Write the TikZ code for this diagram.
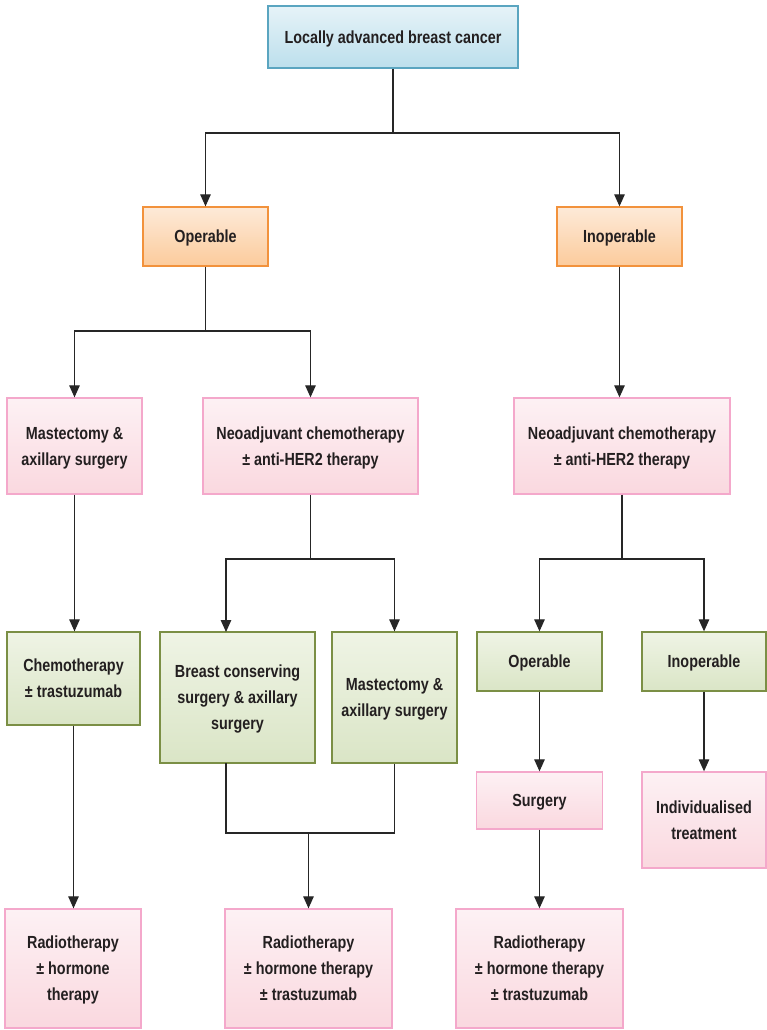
\documentclass[tikz,border=0pt]{standalone}
\usepackage{fontspec}
\setmainfont{Liberation Sans}[FakeStretch=0.82]
\usetikzlibrary{arrows.meta}
\definecolor{blueline}{HTML}{5AA5C0}
\definecolor{bluetop}{HTML}{E6F3F8}
\definecolor{bluebot}{HTML}{BCDFEC}
\definecolor{orangeline}{HTML}{F2923C}
\definecolor{orangetop}{HTML}{FDEAD8}
\definecolor{orangebot}{HTML}{FCCB9C}
\definecolor{pinkline}{HTML}{F4A8CB}
\definecolor{pinktop}{HTML}{FDF1F4}
\definecolor{pinkbot}{HTML}{FAD8DF}
\definecolor{greenline}{HTML}{7B8F45}
\definecolor{greentop}{HTML}{EFF4E5}
\definecolor{greenbot}{HTML}{DAE5C6}
\definecolor{inkcol}{HTML}{231F20}
\begin{document}
\begin{tikzpicture}[
    x=1pt, y=-1pt,
    every node/.style={font=\bfseries\fontsize{17.5}{26}\selectfont, text=inkcol, align=center},
    box/.style={rectangle, line width=1.3pt, inner sep=0pt, text depth=-2pt},
    bluebox/.style={box, draw=blueline, top color=bluetop, bottom color=bluebot},
    orangebox/.style={box, draw=orangeline, top color=orangetop, bottom color=orangebot},
    pinkbox/.style={box, draw=pinkline, top color=pinktop, bottom color=pinkbot},
    greenbox/.style={box, draw=greenline, top color=greentop, bottom color=greenbot},
    link/.style={draw=black!85, line width=1.2pt},
    arr/.style={link, -{Triangle[length=12pt,width=10.5pt]}}
]
    \useasboundingbox (0,0) rectangle (766,1030);

    % level 0 and 1
    \node[bluebox, minimum width=250, minimum height=62] (lab) at (393,37) {Locally advanced breast cancer};
    \node[orangebox, minimum width=125, minimum height=59] (oper) at (205.5,236.5) {Operable};
    \node[orangebox, minimum width=125, minimum height=59] (inoper) at (619.5,236.5) {Inoperable};

    % level 2
    \node[pinkbox, minimum width=135, minimum height=96] (mast) at (74.5,446) {Mastectomy \&\\axillary surgery};
    \node[pinkbox, minimum width=215, minimum height=96] (neoL) at (310.5,446) {Neoadjuvant chemotherapy\\± anti-HER2 therapy};
    \node[pinkbox, minimum width=216, minimum height=96] (neoR) at (622,446) {Neoadjuvant chemotherapy\\± anti-HER2 therapy};

    % level 3
    \node[greenbox, minimum width=133, minimum height=93] (chemo) at (73.5,678.5) {Chemotherapy\\± trastuzumab};
    \node[greenbox, minimum width=155, minimum height=131] (bcs) at (237.5,697.5) {Breast conserving\\surgery \& axillary\\surgery};
    \node[greenbox, minimum width=125, minimum height=131] (mastB) at (394.5,697.5) {Mastectomy \&\\axillary surgery};
    \node[greenbox, minimum width=125, minimum height=59] (operB) at (539.5,661.5) {Operable};
    \node[greenbox, minimum width=124, minimum height=59] (inoperB) at (704,661.5) {Inoperable};

    % level 4
    \node[pinkbox, minimum width=126, minimum height=57] (surg) at (539.5,800.5) {Surgery};
    \node[pinkbox, minimum width=124, minimum height=96] (indiv) at (704,820) {Individualised\\treatment};

    % level 5
    \node[pinkbox, minimum width=136, minimum height=119] (radioA) at (73,968.5) {Radiotherapy\\± hormone\\therapy};
    \node[pinkbox, minimum width=167, minimum height=119] (radioB) at (308.5,968.5) {Radiotherapy\\± hormone therapy\\± trastuzumab};
    \node[pinkbox, minimum width=167, minimum height=119] (radioC) at (539.5,968.5) {Radiotherapy\\± hormone therapy\\± trastuzumab};

    % junctions
    \coordinate (j0) at (393,133);
    \coordinate (j1) at (205.5,331);
    \coordinate (j2) at (310.5,559);
    \coordinate (j3) at (622,559);
    \coordinate (bcsL) at (226,763);
    \coordinate (bcsT) at (226,632);
    \coordinate (j4) at (308.5,833);

    % connectors
    \draw[link] (lab.south) -- (j0);
    \draw[arr] (j0) -| (oper.north);
    \draw[arr] (j0) -| (inoper.north);
    \draw[link] (oper.south) -- (j1);
    \draw[arr] (j1) -| (mast.north);
    \draw[arr] (j1) -| (neoL.north);
    \draw[arr] (inoper.south) -- (inoper.south |- neoR.north);
    \draw[arr] (mast.south) -- (mast.south |- chemo.north);
    \draw[arr] (chemo.south) -- (chemo.south |- radioA.north);
    \draw[link] (neoL.south) -- (j2);
    \draw[arr] (j2) -| (bcsT);
    \draw[arr] (j2) -| (mastB.north);
    \draw[link] (bcsL) |- (j4) -| (mastB.south);
    \draw[arr] (j4) -- (radioB.north);
    \draw[link] (neoR.south) -- (j3);
    \draw[arr] (j3) -| (operB.north);
    \draw[arr] (j3) -| (inoperB.north);
    \draw[arr] (operB.south) -- (surg.north);
    \draw[arr] (surg.south) -- (radioC.north);
    \draw[arr] (inoperB.south) -- (indiv.north);
\end{tikzpicture}
\end{document}
